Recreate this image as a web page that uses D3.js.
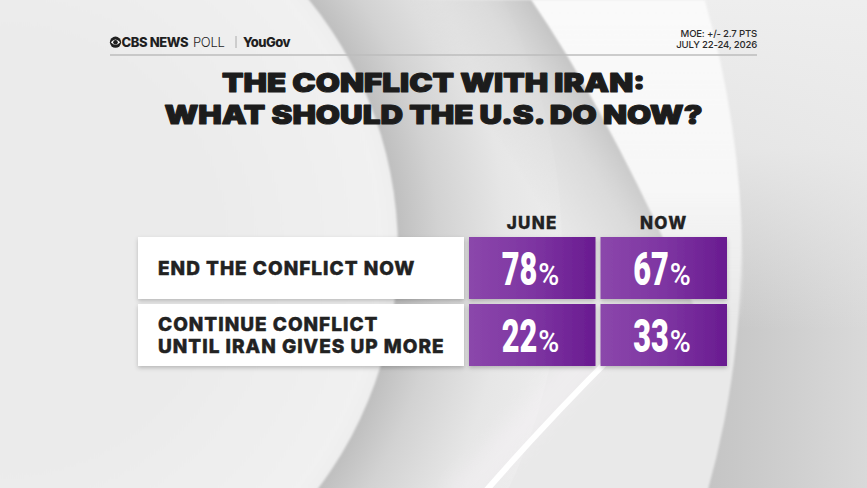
<!DOCTYPE html>
<html>
<head>
<meta charset="utf-8">
<script src="https://cdn.jsdelivr.net/npm/d3@7"></script>
<style>
  html, body { margin: 0; padding: 0; background: #ebebeb; overflow: hidden; }
  svg { display: block; }
</style>
</head>
<body>
<div id="container"></div>
<script>
/* ---------- CONSTANTS AND GLOBALS ---------- */
const width = 867,
  height = 488,
  table = { top: 237, bottom: 366, labelLeft: 138, labelRight: 464, colLeft: 469, colRight: 727 };
let svg;
let yScale;
let xScale;

/* ---------- DATA ---------- */
const categories = ["END THE CONFLICT NOW", "CONTINUE CONFLICT|UNTIL IRAN GIVES UP MORE"];
const periods = ["JUNE", "NOW"];
const juneValues = [78, 22];
const nowValues = [67, 33];
const titleLines = ["THE CONFLICT WITH IRAN:", "WHAT SHOULD THE U.S. DO NOW?"];
const moeLines = ["MOE: +/- 2.7 PTS", "JULY 22-24, 2026"];

// one cell per category x period
const cells = categories.flatMap((c, i) => [
  { category: c, period: periods[0], value: juneValues[i] },
  { category: c, period: periods[1], value: nowValues[i] }
]);

init();

/* ---------- INITIALIZING FUNCTION ---------- */
function init() {
  svg = d3.select("#container")
    .append("svg")
    .attr("width", width)
    .attr("height", height);

  const defs = svg.append("defs");

  // helper for gradients
  function gradient(type, id, attrs, stops) {
    const g = defs.append(type).attr("id", id);
    Object.entries(attrs).forEach(([k, v]) => g.attr(k, v));
    stops.forEach(s => g.append("stop")
      .attr("offset", s[0]).attr("stop-color", s[1])
      .attr("stop-opacity", s[2] == null ? 1 : s[2]));
    return g;
  }

  // right-hand gray area (outside the big arc)
  gradient("linearGradient", "bg-right",
    { gradientUnits: "userSpaceOnUse", x1: 700, y1: 0, x2: 867, y2: 0 },
    [[0, "#c3c3c3"], [0.5, "#cecece"], [1, "#d9d9d9"]]);
  gradient("linearGradient", "bg-right-top",
    { gradientUnits: "userSpaceOnUse", x1: 0, y1: 0, x2: 0, y2: 330 },
    [[0, "#eeeeee", 1], [0.45, "#ebebeb", 0.85], [1, "#ebebeb", 0]]);
  // shading right of the left arc
  gradient("radialGradient", "bg-cres",
    { gradientUnits: "userSpaceOnUse", cx: 2, cy: 250, r: 560 },
    [[0.70, "#bdbdbd"], [0.78, "#d2d2d2"], [0.9, "#e6e6e6"], [1, "#ececec"]]);
  gradient("radialGradient", "bg-inner",
    { gradientUnits: "userSpaceOnUse", cx: 2, cy: 250, r: 396 },
    [[0.55, "#ebebeb"], [0.96, "#f1f1f1"], [1, "#eeeeee"]]);
  // diagonal dark band
  gradient("linearGradient", "bg-band",
    { gradientUnits: "userSpaceOnUse", x1: 520, y1: 178, x2: 610, y2: 120 },
    [[0, "#d0d0d0", 0], [0.6, "#cfcfcf", 0.55], [1, "#c4c4c4", 1]]);
  // white glow right of the band
  gradient("linearGradient", "bg-glow",
    { gradientUnits: "userSpaceOnUse", x1: 0, y1: 0, x2: 0, y2: 320 },
    [[0, "#fbfbfb", 0.95], [0.6, "#fafafa", 0.8], [1, "#f5f5f5", 0]]);

  defs.append("filter").attr("id", "blur-small")
    .append("feGaussianBlur").attr("stdDeviation", 0.5);
  defs.append("filter").attr("id", "blur-mid")
    .attr("x", "-50%").attr("y", "-50%").attr("width", "200%").attr("height", "200%")
    .append("feGaussianBlur").attr("stdDeviation", 9);
  defs.append("filter").attr("id", "blur-edge")
    .append("feGaussianBlur").attr("stdDeviation", 0.8);

  // box shadow
  defs.append("filter").attr("id", "shadow")
    .attr("x", "-10%").attr("y", "-10%").attr("width", "120%").attr("height", "130%")
    .append("feDropShadow")
    .attr("dx", 0).attr("dy", 2).attr("stdDeviation", 2)
    .attr("flood-color", "#000").attr("flood-opacity", 0.22);

  gradient("linearGradient", "purple",
    { x1: 0, x2: 1, y1: 0, y2: 0 },
    [[0, "#8b47ab"], [0.5, "#7e35a2"], [1, "#691b90"]]);

  // + BACKGROUND
  const bg = svg.append("g").attr("class", "background");
  bg.append("rect").attr("width", width).attr("height", height).attr("fill", "url(#bg-right)");
  bg.append("rect").attr("width", width).attr("height", height).attr("fill", "url(#bg-right-top)");
  // everything left of the large outer arc
  bg.append("circle")
    .attr("cx", -145).attr("cy", 250).attr("r", 886)
    .attr("fill", "#e9e9e9")
    .attr("filter", "url(#blur-edge)");
  // shaded crescent right of the left arc
  bg.append("circle")
    .attr("cx", 2).attr("cy", 250).attr("r", 560)
    .attr("fill", "url(#bg-cres)");
  // white glow between band edge and outer arc
  bg.append("path")
    .attr("d", "M531,0 Q612,118 700,320 L742,320 Q748,150 705,0 Z")
    .attr("fill", "url(#bg-glow)")
    .attr("filter", "url(#blur-edge)");
  // diagonal dark band with sharp right edge
  bg.append("path")
    .attr("d", "M400,0 L531,0 Q612,118 700,320 L600,320 Q520,150 400,0 Z")
    .attr("fill", "url(#bg-band)")
    .attr("filter", "url(#blur-edge)");
  // inner light disc (left arc)
  bg.append("circle")
    .attr("cx", 2).attr("cy", 250).attr("r", 396)
    .attr("fill", "url(#bg-inner)")
    .attr("filter", "url(#blur-edge)");
  // white streak below the table
  bg.append("path")
    .attr("d", "M478,500 Q540,428 618,350")
    .attr("fill", "none").attr("stroke", "#f6f2f6").attr("stroke-width", 30)
    .attr("opacity", 0.45)
    .attr("transform", "translate(-20,0)")
    .attr("filter", "url(#blur-mid)");
  bg.append("path")
    .attr("d", "M478,500 Q540,428 618,350")
    .attr("fill", "none").attr("stroke", "#ffffff").attr("stroke-width", 6)
    .attr("filter", "url(#blur-small)");

  // + HEADER
  const header = svg.append("g").attr("class", "header");
  const eye = header.append("g").attr("transform", "translate(115.5,42.2)");
  eye.append("circle").attr("r", 5.6).attr("fill", "#1f1f1f");
  eye.append("path")
    .attr("d", "M-4.6,0 Q0,-5.2 4.6,0 Q0,5.2 -4.6,0 Z")
    .attr("fill", "#ffffff");
  eye.append("circle").attr("r", 2.3).attr("fill", "#1f1f1f");

  header.append("text")
    .attr("x", 121.5).attr("y", 46.8)
    .attr("font-family", "Inter, 'Noto Sans', sans-serif")
    .attr("font-weight", 800).attr("font-size", 13)
    .attr("letter-spacing", -0.4)
    .attr("fill", "#1f1f1f")
    .text("CBS NEWS");
  header.append("text")
    .attr("x", 193).attr("y", 46.8)
    .attr("font-family", "Inter, 'Noto Sans', sans-serif")
    .attr("font-weight", 300).attr("font-size", 13)
    .attr("letter-spacing", -0.3)
    .attr("fill", "#1f1f1f")
    .text("POLL");
  header.append("line")
    .attr("x1", 236).attr("x2", 236).attr("y1", 36).attr("y2", 48)
    .attr("stroke", "#9a9a9a").attr("stroke-width", 0.8);
  header.append("text")
    .attr("x", 243).attr("y", 46.8)
    .attr("font-family", "Inter, 'Noto Sans', sans-serif")
    .attr("font-weight", 800).attr("font-size", 13)
    .attr("letter-spacing", -0.5)
    .attr("fill", "#1f1f1f")
    .text("YouGov");

  header.selectAll("text.moe")
    .data(moeLines)
    .join("text")
    .attr("class", "moe")
    .attr("x", 757).attr("y", (d, i) => 37 + i * 10.5)
    .attr("text-anchor", "end")
    .attr("font-family", "Inter, sans-serif")
    .attr("font-weight", 500).attr("font-size", 9.6)
    .attr("letter-spacing", -0.2)
    .attr("fill", "#2a2a2a")
    .text(d => d);

  header.append("line")
    .attr("x1", 110).attr("x2", 757).attr("y1", 55).attr("y2", 55)
    .attr("stroke", "#bdbdbd").attr("stroke-width", 1.5);

  // + TITLE (one text, two lines)
  const titleWidths = [423, 538];
  svg.append("text")
    .attr("class", "title")
    .attr("text-anchor", "middle")
    .attr("font-family", "Inter, sans-serif")
    .attr("font-weight", 900).attr("font-size", 26)
    .attr("fill", "#1c1c1c")
    .attr("stroke", "#1c1c1c").attr("stroke-width", 1.1)
    .attr("stroke-linejoin", "round")
    .selectAll("tspan")
    .data(titleLines)
    .join("tspan")
    .attr("x", width / 2).attr("y", (d, i) => 92 + i * 31.5)
    .attr("textLength", (d, i) => titleWidths[i])
    .attr("lengthAdjust", "spacingAndGlyphs")
    .text(d => d);

  // + SCALES
  yScale = d3.scaleBand()
    .domain(categories)
    .range([table.top, table.bottom])
    .paddingInner(5 / 67);

  xScale = d3.scaleBand()
    .domain(periods)
    .range([table.colLeft, table.colRight])
    .paddingInner(5 / 131);

  draw();
}

/* ---------- DRAW FUNCTION ---------- */
function draw() {
  // column headers
  svg.selectAll("text.period")
    .data(periods)
    .join("text")
    .attr("class", "period")
    .attr("x", d => xScale(d) + xScale.bandwidth() / 2)
    .attr("y", table.top - 8)
    .attr("text-anchor", "middle")
    .attr("font-family", "Inter, sans-serif")
    .attr("font-weight", 800).attr("font-size", 17)
    .attr("letter-spacing", 1.3)
    .attr("fill", "#222")
    .attr("stroke", "#222").attr("stroke-width", 0.3)
    .text(d => d);

  // label boxes
  const rows = svg.selectAll("g.row")
    .data(categories)
    .join("g")
    .attr("class", "row")
    .attr("transform", d => `translate(0,${yScale(d)})`);

  rows.append("rect")
    .attr("x", table.labelLeft)
    .attr("width", table.labelRight - table.labelLeft)
    .attr("height", yScale.bandwidth())
    .attr("fill", "#ffffff")
    .attr("filter", "url(#shadow)");

  rows.each(function (d) {
    const lines = d.split("|");
    const mid = yScale.bandwidth() / 2 + 6.8;
    d3.select(this).selectAll("text.label")
      .data(lines)
      .join("text")
      .attr("class", "label")
      .attr("x", table.labelLeft + 20)
      .attr("y", (l, i) => mid + (i - (lines.length - 1) / 2) * 21.5)
      .attr("font-family", "Inter, sans-serif")
      .attr("font-weight", 800).attr("font-size", 19)
      .attr("letter-spacing", 1.0)
      .attr("fill", "#222")
      .attr("stroke", "#222").attr("stroke-width", 0.45)
      .text(l => l);
  });

  // value cells
  const cell = svg.selectAll("g.cell")
    .data(cells)
    .join("g")
    .attr("class", "cell")
    .attr("transform", d => `translate(${xScale(d.period)},${yScale(d.category)})`);

  cell.append("rect")
    .attr("width", xScale.bandwidth())
    .attr("height", yScale.bandwidth())
    .attr("fill", "url(#purple)")
    .attr("filter", "url(#shadow)");

  const cx = xScale.bandwidth() / 2;
  const base = yScale.bandwidth() / 2 + 17;

  cell.append("text")
    .attr("transform", `translate(${cx + 5},${base}) scale(0.66,1)`)
    .attr("text-anchor", "end")
    .attr("font-family", "Roboto, sans-serif")
    .attr("font-weight", 900).attr("font-size", 46.5)
    .attr("fill", "#ffffff")
    .text(d => d.value);

  cell.append("text")
    .attr("transform", `translate(${cx + 6},${base}) scale(0.92,1)`)
    .attr("text-anchor", "start")
    .attr("font-family", "Roboto, sans-serif")
    .attr("font-weight", 500).attr("font-size", 31)
    .attr("fill", "#ffffff")
    .text("%");
}
</script>
</body>
</html>
